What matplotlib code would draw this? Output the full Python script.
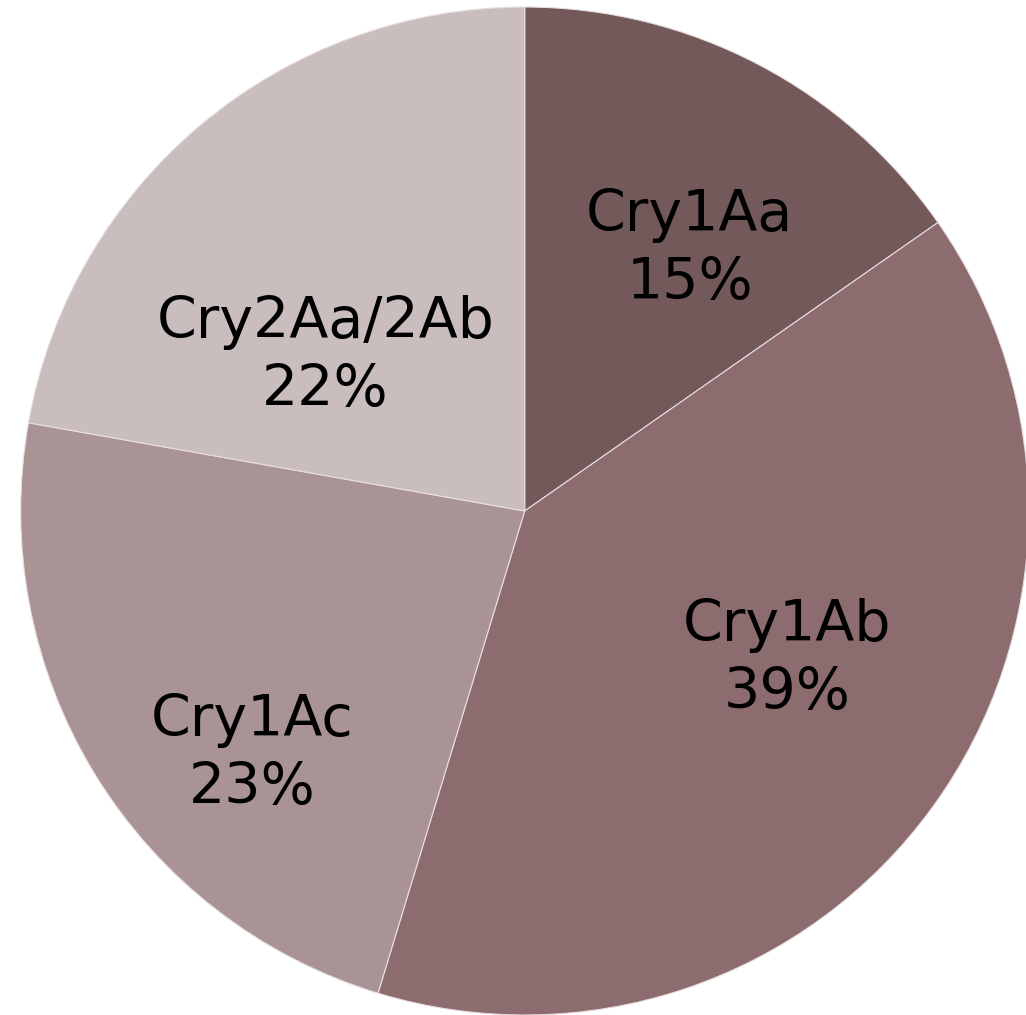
import matplotlib
matplotlib.use("Agg")
import matplotlib.pyplot as plt
import numpy as np

categories = ["Cry1Aa", "Cry1Ab", "Cry1Ac", "Cry2Aa/2Ab"]
values = [15.3, 39.4, 23.1, 22.2]
colors = ["#74595A", "#8C6C6F", "#A99395", "#C9BDBE"]
# label centres (radius fraction, angle in degrees) - layout only
label_pos = [(0.613, 57.7), (0.598, -29.6), (0.726, 221.8), (0.50, 142.2)]

fig = plt.figure(figsize=(10.26, 10.15), dpi=100)
ax = fig.add_axes([20.7 / 1026, 0.0, 1008 / 1026, 1008 / 1015])
wedges, _ = ax.pie(values, colors=colors, startangle=90, counterclock=False,
                   radius=1.0, wedgeprops=dict(edgecolor="#e8dede", linewidth=0.8))
ax.set_xlim(-1, 1)
ax.set_ylim(-1, 1)
ax.set_aspect("equal")
ax.axis("off")

total = sum(values)
for name, v, (r, a) in zip(categories, values, label_pos):
    x = r * np.cos(np.radians(a))
    y = r * np.sin(np.radians(a))
    ax.text(x, y, f"{name}\n{round(v / total * 100):.0f}%", ha="center", va="center",
            fontsize=41, family="DejaVu Sans", color="black", linespacing=1.3)

fig.savefig("out.png", dpi=100)
